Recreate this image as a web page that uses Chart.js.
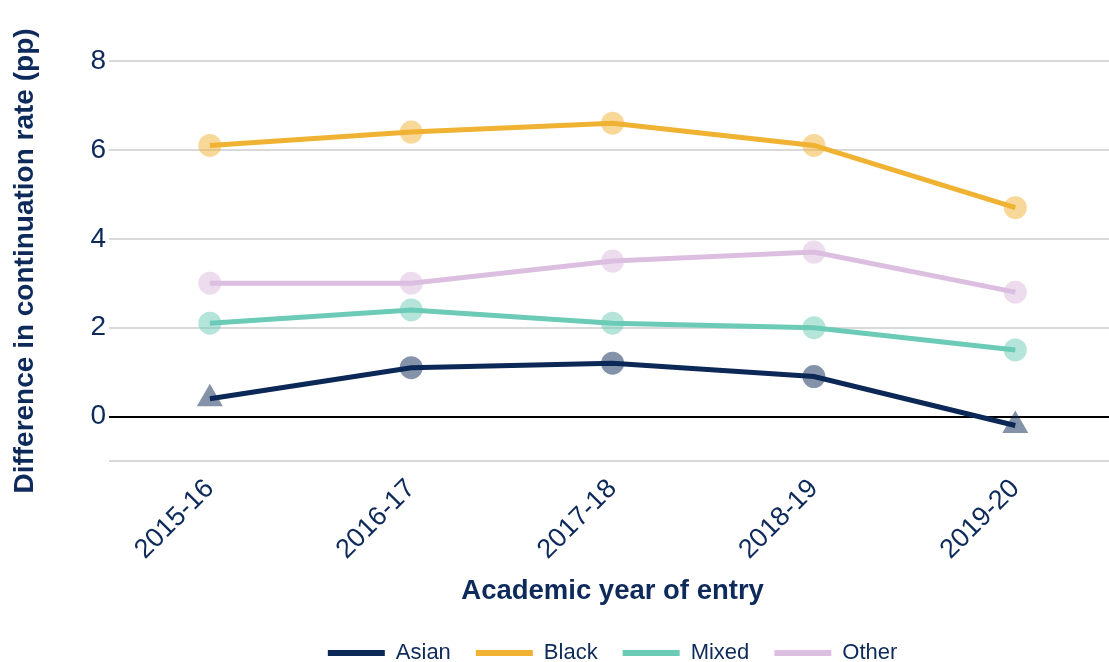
<!DOCTYPE html>
<html>
<head>
<meta charset="utf-8">
<script src="https://cdn.jsdelivr.net/npm/chart.js@4"></script>
<style>
  html, body { margin: 0; padding: 0; background: #fff; overflow: hidden; }
  /* the plot runs a little past the right and bottom edge of the window */
  #wrap { width: 1131px; height: 674px; position: relative; }
</style>
</head>
<body>
<div id="wrap"><canvas id="chart"></canvas></div>
<script>
const years = ["2015-16", "2016-17", "2017-18", "2018-19", "2019-20"];
const asian = [0.4, 1.1, 1.2, 0.9, -0.2];
const black = [6.1, 6.4, 6.6, 6.1, 4.7];
const mixed = [2.1, 2.4, 2.1, 2.0, 1.5];
const other = [3.0, 3.0, 3.5, 3.7, 2.8];
// triangles mark the points flagged in the source
const asianShapes = ["triangle", "circle", "circle", "circle", "triangle"];

const navy = "#0e2a5a";
const sans = "Liberation Sans";

function series(label, data, color, faded, shapes) {
  return {
    label: label,
    data: data,
    borderColor: color,
    backgroundColor: color,
    borderWidth: 5,
    pointBackgroundColor: faded,
    pointBorderWidth: 0,
    pointRadius: shapes ? shapes.map((s) => (s === "triangle" ? 15 : 11.5)) : 11.5,
    pointStyle: shapes || "circle",
    tension: 0
  };
}

new Chart(document.getElementById("chart").getContext("2d"), {
  type: "line",
  data: {
    labels: years,
    datasets: [
      series("Asian", asian, "#0b2856", "rgba(11,40,86,0.5)", asianShapes),
      series("Black", black, "#f0b232", "rgba(240,178,50,0.5)"),
      series("Mixed", mixed, "#6ccbb6", "rgba(108,203,182,0.5)"),
      series("Other", other, "#dcbfe0", "rgba(220,191,224,0.55)")
    ]
  },
  options: {
    responsive: true,
    maintainAspectRatio: false,
    animation: false,
    layout: { padding: { top: 61, right: 0, bottom: 0, left: 8 } },
    scales: {
      x: {
        offset: true,
        grid: { display: false, drawTicks: false },
        border: { display: false },
        afterFit: (s) => { s.paddingRight = 0; s.paddingLeft = 0; },
        ticks: {
          color: navy,
          font: { family: sans, size: 27 },
          minRotation: 45,
          maxRotation: 45,
          padding: 12
        },
        title: {
          display: true,
          text: "Academic year of entry",
          color: navy,
          font: { family: sans, size: 27.5, weight: "bold" },
          padding: { top: -3, bottom: 9 }
        }
      },
      y: {
        min: -1,
        max: 8,
        ticks: {
          stepSize: 2,
          color: navy,
          font: { family: sans, size: 28 },
          padding: 3,
          callback: (v) => (v === -1 ? "" : v)
        },
        grid: {
          drawTicks: false,
          lineWidth: 2,
          color: (ctx) => (ctx.tick && ctx.tick.value === 0 ? "#000" : "#d9d9d9")
        },
        border: { display: false },
        title: {
          display: true,
          text: "Difference in continuation rate (pp)",
          color: navy,
          font: { family: sans, size: 28, weight: "bold" },
          padding: { top: 0, bottom: 46 }
        }
      }
    },
    plugins: {
      legend: {
        position: "bottom",
        fullSize: false,
        labels: {
          color: navy,
          font: { family: sans, size: 22 },
          boxWidth: 57,
          boxHeight: 6,
          padding: 25,
          generateLabels: (chart) =>
            chart.data.datasets.map((ds, i) => ({
              text: ds.label,
              fillStyle: ds.borderColor,
              strokeStyle: ds.borderColor,
              lineWidth: 0,
              fontColor: navy,
              datasetIndex: i
            }))
        }
      },
      tooltip: { enabled: false }
    }
  }
});
</script>
</body>
</html>
